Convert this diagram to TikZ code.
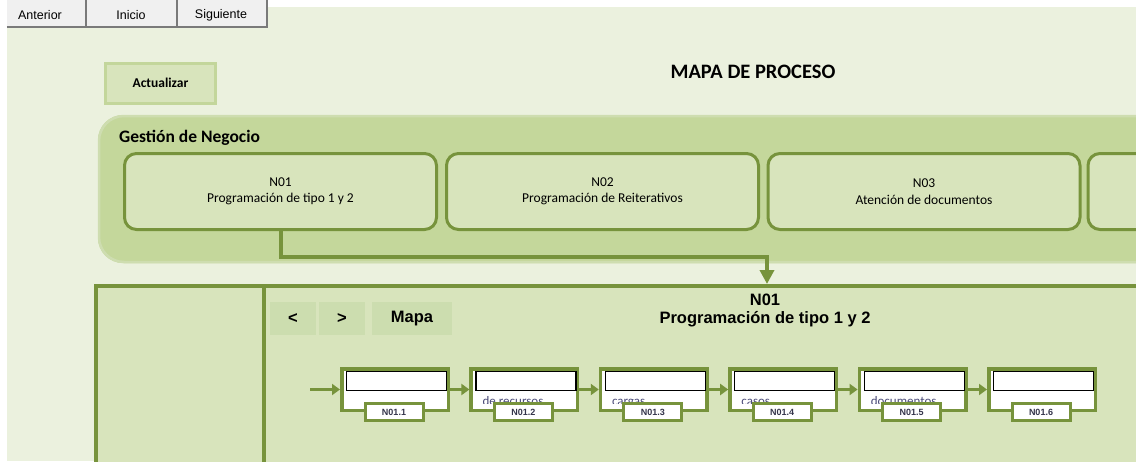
\documentclass[tikz,border=0pt]{standalone}
\usepackage{fontspec}
\setmainfont{Carlito}
\newfontfamily\arialf{Liberation Sans}
\usetikzlibrary{arrows.meta}

\definecolor{bgbeige}{HTML}{EBF1DE}
\definecolor{regiongreen}{HTML}{C4D79B}
\definecolor{regionrim}{HTML}{CEDDB0}
\definecolor{boxgreen}{HTML}{D8E4BC}
\definecolor{edgegreen}{HTML}{77933C}
\definecolor{btngreen}{HTML}{CCDDAF}
\definecolor{actedge}{HTML}{C3D69B}
\definecolor{tabgray}{HTML}{F0F0F0}
\definecolor{tabedge}{HTML}{7A7A7A}
\definecolor{notetext}{HTML}{4A4A78}
\definecolor{labeltext}{HTML}{34344A}

\tikzset{
  tabbtn/.style={fill=tabgray, minimum height=27pt, inner sep=0pt},
  tabtext/.style={inner sep=0pt, font=\arialf\fontsize{12.5}{15}\selectfont},
  tabline/.style={tabedge, line width=1.6pt},
  actbtn/.style={fill=boxgreen, draw=actedge, line width=3pt,
    minimum width=110pt, minimum height=40pt, inner sep=0pt,
    font=\bfseries\fontsize{13.5}{15}\selectfont},
  nbox/.style={rounded corners=12pt, draw=edgegreen, line width=3pt,
    fill=boxgreen, minimum width=312pt, minimum height=76pt, align=center,
    inner sep=0pt, font=\fontsize{13.5}{16.5}\selectfont},
  navbtn/.style={fill=btngreen, minimum height=33pt, inner sep=0pt,
    font=\arialf\bfseries\fontsize{16.5}{18}\selectfont},
  conn/.style={edgegreen, line width=4pt, line join=miter,
    -{Triangle[length=14pt,width=14pt]}},
  pbox/.style={draw=edgegreen, line width=3.5pt, fill=white,
    minimum width=106.5pt, minimum height=41.5pt, inner sep=0pt},
  field/.style={draw=black, line width=1.2pt, fill=white,
    minimum width=100pt, minimum height=19pt, inner sep=0pt},
  plabel/.style={draw=edgegreen, line width=3pt, fill=white,
    minimum width=58pt, minimum height=17pt, inner sep=0pt,
    text=labeltext, font=\arialf\bfseries\fontsize{9}{10}\selectfont},
  notetxt/.style={inner sep=0pt, text=notetext,
    font=\fontsize{13}{15}\selectfont},
  parrow/.style={edgegreen, line width=3pt,
    -{Triangle[length=8pt,width=11pt]}}
}

\begin{document}
\begin{tikzpicture}[x=1pt,y=-1pt]
  \useasboundingbox (0,0) rectangle (1136,461);
  \clip (0,0) rectangle (1136,461);

  % page and background
  \fill[white] (0,0) rectangle (1136,461);
  \fill[bgbeige] (7,7) rectangle (1136,461);

  % navigation tabs
  \node[tabbtn, minimum width=79pt] (anterior) at (46.5,13.5) {};
  \node[tabbtn, minimum width=91pt] (inicio) at (131.5,13.5) {};
  \node[tabbtn, minimum width=90pt] (siguiente) at (222,13.5) {};
  \draw[tabline] (anterior.south west) -- (siguiente.south east) -- (siguiente.north east);
  \draw[tabline] (anterior.south east) -- (anterior.north east);
  \draw[tabline] (inicio.south east) -- (inicio.north east);
  \node[tabtext] (tanterior) at (40,15) {Anterior};
  \node[tabtext] (tinicio) at (131,15) {Inicio};
  \node[tabtext] (tsiguiente) at (221,15) {Siguiente};

  % update button and title
  \node[actbtn] (actualizar) at (160.5,83) {Actualizar};
  \node[font=\bfseries\fontsize{20.5}{22}\selectfont, inner sep=0pt] (titulo) at (753,72) {MAPA DE PROCESO};

  % business region
  \fill[regiongreen, rounded corners=25pt] (98,115) rectangle (1200,263);
  \draw[regionrim, line width=2.5pt, rounded corners=25pt] (99,116) rectangle (1200,262);
  \node[anchor=west, inner sep=0pt, font=\bfseries\fontsize{17.5}{19}\selectfont] (gestion) at (119,138) {Gestión de Negocio};

  \node[nbox] (n01) at (280.5,191.5) {N01\\Programación de tipo 1 y 2};
  \node[nbox] (n02) at (602.5,191.5) {N02\\Programación de Reiterativos};
  \node[nbox] (n03) at (924,191.5) {N03\\Atención de documentos};
  \node[nbox] (n04) at (1244,191.5) {};

  % detail panel
  \draw[edgegreen, line width=4pt, fill=boxgreen] (95.5,286) rectangle (1220,520);
  \draw[edgegreen, line width=4pt] (264,286) -- (264,520);

  \coordinate (bend) at (767,256.5);
  \coordinate (paneltop) at (767,284);
  \draw[conn] (n01.south) |- (bend) -- (paneltop);

  \node[navbtn, minimum width=46pt] (prev) at (293,318.5) {<};
  \node[navbtn, minimum width=46pt] (next) at (342,318.5) {>};
  \node[navbtn, minimum width=80pt] (mapa) at (412,318.5) {Mapa};

  \node[align=center, inner sep=0pt, font=\arialf\bfseries\fontsize{16.5}{18}\selectfont] (detalle) at (765,310) {N01\\Programación de tipo 1 y 2};

  % process steps
  \coordinate (start) at (310,389.5);
  \foreach \i/\note in {1/,2/de recursos,3/cargas,4/casos,5/documentos,6/} {
    \pgfmathsetmacro\L{340+(\i-1)*129.4}
    \node[pbox] (p\i) at (\L+55,389.5) {};
    \node[field] (f\i) at (\L+56.5,381) {};
    \begin{scope}
      \clip (\L+3,392) rectangle (\L+107,403.5);
      \node[notetxt, anchor=base west] (t\i) at (\L+13,405) {\note};
    \end{scope}
    \node[plabel] (l\i) at (\L+54,412) {N01.\i};
  }
  \draw[parrow] (start) -- (p1.west);
  \foreach \a/\b in {1/2,2/3,3/4,4/5,5/6} {
    \draw[parrow] (p\a.east) -- (p\b.west);
  }
\end{tikzpicture}
\end{document}
